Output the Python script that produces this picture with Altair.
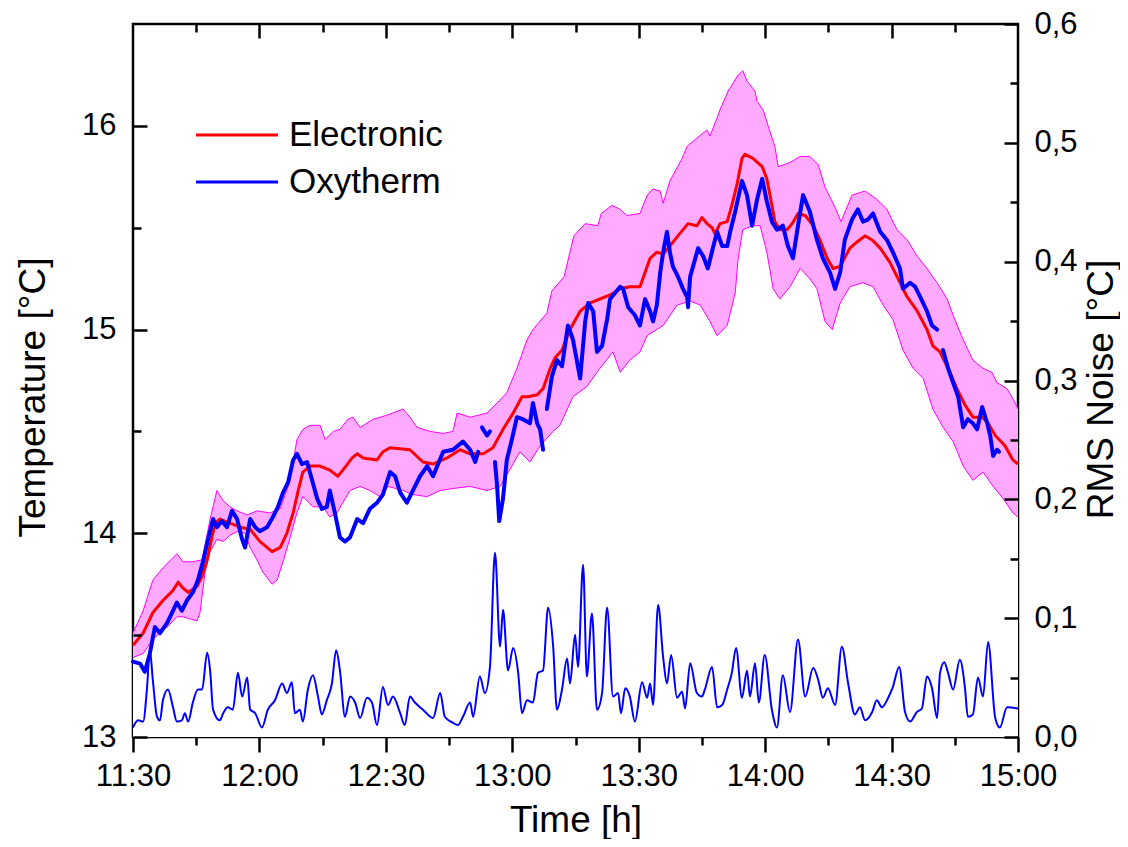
import altair as alt
import pandas as pd

FONT = "Liberation Sans"

# time in minutes after 11:30, temperature in °C
ELEC = [(0.0,13.45),(2.4,13.51),(4.7,13.61),(7.1,13.67),(9.5,13.72),(10.7,13.76),(11.9,13.73),(13.1,13.71),
        (15.2,13.74),(16.4,13.79),(17.6,13.87),(18.7,13.98),(19.5,14.05),(20.6,14.07),(23.0,14.05),(25.4,14.03),
        (27.8,14.02),(30.1,13.96),(33.0,13.91),(34.9,13.93),(36.5,14.00),(38.0,14.10),(39.2,14.21),(40.3,14.30),
        (42.0,14.33),(44.4,14.33),(46.7,14.31),(48.6,14.28),(49.8,14.31),(52.0,14.37),(53.2,14.39),(54.6,14.37),
        (57.9,14.36),(59.3,14.40),(61.0,14.42),(65.7,14.41),(68.8,14.35),(71.2,14.34),(74.5,14.37),(77.6,14.41),
        (80.0,14.39),(83.1,14.39),(85.4,14.42),(87.8,14.51),(90.2,14.59),(92.3,14.67),(93.7,14.67),(95.9,14.68),
        (97.3,14.71),(99.0,14.81),(100.1,14.86),(101.8,14.90),(103.7,15.00),(106.1,15.09),(108.4,15.13),(110.8,15.15),
        (113.2,15.17),(115.6,15.20),(117.9,15.21),(120.3,15.21),(121.5,15.28),(122.7,15.35),(124.3,15.38),(125.8,15.37),
        (127.4,15.41),(129.3,15.46),(131.7,15.52),(133.8,15.51),(135.0,15.55),(136.2,15.52),(137.4,15.50),(138.1,15.47),
        (139.3,15.52),(141.0,15.53),(142.1,15.61),(143.3,15.71),(144.5,15.84),(145.2,15.86),(147.1,15.84),(149.3,15.80),
        (150.4,15.74),(151.6,15.61),(152.3,15.53),(153.5,15.49),(155.2,15.49),(156.4,15.52),(157.8,15.57),(159.5,15.56),
        (161.4,15.51),(163.0,15.44),(164.7,15.35),(166.1,15.30),(167.8,15.31),(170.1,15.40),(171.8,15.43),(173.7,15.46),
        (175.4,15.44),(177.3,15.40),(179.6,15.33),(181.3,15.26),(183.7,15.16),(186.1,15.09),(188.4,15.00),(189.8,14.92),
        (191.5,14.89),(193.4,14.81),(195.5,14.71),(197.4,14.63),(199.3,14.57),(201.5,14.57),(202.9,14.54),(204.6,14.48),
        (206.9,14.43),(208.8,14.36),(210.0,14.34)]

OXY_1 = [(0.0,13.37),(1.7,13.36),(2.8,13.32),(4.0,13.41),(5.2,13.54),(6.4,13.51),(8.1,13.56),(9.5,13.62),(10.4,13.66),
         (11.6,13.62),(12.8,13.67),(14.2,13.71),(15.4,13.77),(16.6,13.86),(17.8,13.97),(19.0,14.07),(19.9,14.03),
         (21.1,14.06),(22.3,14.03),(23.5,14.11),(24.7,14.07),(25.9,13.97),(26.6,13.93),(27.8,14.07),(29.0,14.03),
         (30.1,14.01),(31.8,14.03),(33.2,14.08),(34.4,14.13),(35.6,14.20),(36.8,14.25),(38.0,14.36),(38.9,14.39),
         (40.1,14.34),(41.3,14.35),(42.5,14.26),(43.7,14.17),(44.8,14.12),(46.0,14.13),(46.7,14.21),(47.9,14.10),
         (49.1,13.98),(50.3,13.96),(51.5,13.98),(53.2,14.07),(54.6,14.05),(56.2,14.12),(57.9,14.15),(59.3,14.19),
         (61.0,14.30),(62.2,14.28),(63.4,14.20),(65.0,14.15),(66.4,14.21),(68.1,14.28),(69.8,14.33),(71.2,14.28),
         (73.6,14.40),(75.9,14.41),(78.3,14.45),(80.0,14.41),(81.2,14.35),(81.9,14.40)]
OXY_2 = [(82.8,14.52),(84.0,14.48),(84.7,14.50)]
OXY_3 = [(85.9,14.35),(86.4,14.23),(86.9,14.06),(87.8,14.17),(88.7,14.36),(89.9,14.46),(91.1,14.57),(92.5,14.56),
         (94.2,14.54),(94.9,14.64),(95.9,14.54),(96.6,14.51),(97.3,14.41)]
OXY_4 = [(98.2,14.61),(99.4,14.77),(100.6,14.85),(101.8,14.82),(103.2,15.02),(104.4,14.95),(106.1,14.76),(107.3,15.04),
         (108.0,15.13),(109.2,15.09),(110.1,14.89),(111.3,14.92),(112.5,15.05),(113.2,15.15),(115.6,15.21),(116.3,15.20),
         (117.5,15.11),(119.1,15.07),(120.3,15.02),(121.5,15.15),(122.7,15.09),(123.4,15.04),(124.3,15.12),(125.1,15.28),
         (125.8,15.38),(126.7,15.48),(127.4,15.38),(128.1,15.31),(129.3,15.26),(130.5,15.20),(131.5,15.16),(131.7,15.11),
         (132.2,15.26),(132.9,15.31),(134.1,15.40),(135.3,15.36),(136.4,15.30),(137.6,15.40),(138.6,15.48),(139.8,15.41),
         (141.0,15.41),(141.7,15.48),(142.9,15.58),(144.5,15.73),(145.7,15.66),(146.9,15.51),(148.1,15.64),(149.3,15.74),
         (150.4,15.63),(151.6,15.53),(152.8,15.49),(154.2,15.51),(155.4,15.41),(156.6,15.35),(157.8,15.51),(159.0,15.66),
         (160.6,15.58),(162.3,15.44),(163.7,15.35),(165.4,15.28),(166.6,15.20),(167.8,15.28),(168.9,15.44),(170.6,15.54),
         (172.0,15.59),(173.2,15.53),(174.4,15.54),(175.6,15.57),(177.3,15.48),(178.9,15.44),(180.3,15.38),(182.0,15.30),
         (182.7,15.20),(184.4,15.23),(185.6,15.21),(186.8,15.16),(188.4,15.09),(189.6,15.02),(190.8,15.00)]
OXY_5 = [(192.2,14.90),(193.4,14.81),(194.6,14.74),(195.8,14.67),(197.0,14.52),(198.1,14.56),(199.3,14.54),(200.3,14.51),
         (201.5,14.62),(202.7,14.54),(203.4,14.48),(204.1,14.38),(205.0,14.41),(205.5,14.40)]

BAND_HI = [(0.0,13.51),(2.4,13.62),(4.7,13.77),(7.1,13.83),(10.4,13.90),(11.9,13.86),(14.2,13.86),(16.4,13.87),
           (18.3,14.07),(19.9,14.21),(21.4,14.16),(23.0,14.13),(24.7,14.11),(27.1,14.09),(29.4,14.11),(32.5,14.10),
           (34.9,14.12),(37.3,14.26),(38.9,14.46),(40.3,14.51),(42.0,14.53),(44.4,14.53),(45.6,14.46),(47.5,14.50),
           (49.1,14.51),(51.0,14.56),(52.2,14.57),(53.9,14.52),(57.0,14.56),(60.3,14.58),(64.1,14.61),(65.7,14.57),
           (67.4,14.52),(70.5,14.50),(73.6,14.49),(75.9,14.50),(76.9,14.59),(80.0,14.57),(84.0,14.59),(86.4,14.64),
           (88.7,14.69),(91.1,14.81),(93.5,14.95),(94.9,15.00),(98.2,15.08),(99.4,15.19),(102.3,15.26),(104.6,15.46),
           (107.3,15.52),(110.3,15.51),(111.1,15.57),(113.7,15.61),(115.6,15.59),(117.2,15.56),(120.3,15.57),(122.0,15.66),
           (123.4,15.69),(125.1,15.68),(125.8,15.62),(127.4,15.73),(130.3,15.84),(131.5,15.90),(133.8,15.94),(136.2,15.98),
           (136.9,15.95),(138.6,16.04),(139.3,16.08),(141.2,16.17),(143.6,16.25),(144.7,16.27),(145.7,16.22),(147.6,16.17),
           (148.1,16.12),(149.5,16.08),(150.7,16.00),(152.3,15.90),(153.1,15.80),(155.9,15.82),(158.3,15.85),(160.6,15.85),
           (162.6,15.81),(164.2,15.70),(166.6,15.60),(168.0,15.53),(170.6,15.66),(173.7,15.68),(176.5,15.64),(178.9,15.59),
           (181.3,15.49),(183.7,15.44),(186.1,15.36),(188.4,15.30),(190.8,15.23),(193.2,15.15),(194.6,15.07),(197.0,14.95),
           (199.3,14.85),(201.7,14.81),(203.8,14.79),(205.0,14.74),(207.4,14.71),(208.8,14.66),(210.0,14.61)]

BAND_LO = [(0.0,13.39),(2.4,13.41),(4.7,13.48),(8.1,13.54),(10.4,13.59),(11.9,13.59),(13.5,13.58),(15.2,13.57),
           (15.9,13.61),(17.1,13.81),(18.3,13.91),(19.9,13.97),(21.4,13.96),(23.0,13.99),(24.9,14.01),(26.6,14.00),
           (27.8,13.93),(29.4,13.87),(30.8,13.81),(33.0,13.75),(34.2,13.77),(35.6,13.86),(37.3,13.98),(38.9,14.10),
           (40.3,14.18),(42.7,14.13),(45.1,14.13),(46.7,14.08),(48.4,14.10),(49.8,14.15),(51.5,14.21),(53.9,14.23),
           (56.2,14.21),(58.6,14.18),(60.5,14.23),(64.1,14.21),(66.4,14.19),(69.8,14.18),(72.9,14.21),(75.9,14.22),
           (80.0,14.23),(84.0,14.21),(87.1,14.23),(89.9,14.33),(91.8,14.40),(94.2,14.35),(96.6,14.43),(99.7,14.50),
           (101.3,14.53),(104.4,14.67),(107.7,14.72),(110.8,14.81),(113.9,14.89),(115.6,14.79),(117.9,14.85),(120.3,14.89),
           (122.0,14.97),(125.8,15.02),(129.1,15.12),(132.2,15.14),(134.6,15.12),(136.9,15.04),(138.6,14.97),(141.0,15.02),
           (142.9,15.18),(143.6,15.35),(144.7,15.49),(147.1,15.51),(148.8,15.51),(150.4,15.38),(151.9,15.20),(153.5,15.15),
           (155.9,15.21),(158.3,15.30),(160.6,15.25),(162.3,15.20),(164.2,15.04),(165.9,15.00),(167.8,15.13),(170.1,15.21),
           (173.2,15.23),(175.6,15.21),(178.0,15.12),(180.3,15.05),(182.7,14.90),(185.1,14.81),(187.5,14.76),(189.8,14.61),
           (192.2,14.52),(194.6,14.45),(197.0,14.33),(199.3,14.26),(201.7,14.30),(204.1,14.23),(206.5,14.17),(208.8,14.10),
           (210.0,14.08)]

# RMS noise in °C
NOISE = [(0.0,0.008),(1.2,0.014),(2.4,0.013),(3.3,0.040),(4.0,0.073),(4.7,0.048),(5.7,0.017),(6.4,0.014),(7.1,0.031),
         (8.3,0.040),(9.5,0.025),(10.4,0.013),(11.6,0.014),(12.3,0.020),(13.1,0.013),(14.2,0.029),(15.4,0.040),
         (16.4,0.040),(17.6,0.071),(18.3,0.056),(19.0,0.023),(20.6,0.014),(21.4,0.020),(22.5,0.025),(23.7,0.023),
         (24.9,0.054),(25.9,0.034),(27.1,0.050),(27.8,0.023),(29.0,0.020),(30.6,0.008),(32.0,0.023),(33.7,0.031),
         (35.4,0.045),(36.5,0.037),(37.7,0.046),(38.4,0.020),(39.6,0.023),(40.3,0.013),(41.5,0.040),(42.7,0.052),
         (43.9,0.034),(44.8,0.019),(46.0,0.031),(47.2,0.045),(48.2,0.073),(49.1,0.056),(50.3,0.017),(51.5,0.034),
         (52.7,0.029),(53.9,0.016),(55.5,0.033),(56.7,0.029),(57.9,0.010),(59.3,0.042),(60.5,0.027),(61.7,0.034),
         (63.4,0.020),(64.5,0.010),(65.7,0.034),(66.9,0.029),(68.8,0.023),(71.2,0.016),(72.9,0.037),(74.0,0.017),
         (75.9,0.012),(77.1,0.010),(78.3,0.017),(80.0,0.029),(80.7,0.017),(82.3,0.051),(83.5,0.037),(84.7,0.059),
         (85.9,0.155),(87.1,0.076),(87.8,0.107),(89.0,0.056),(90.2,0.075),(91.4,0.054),(92.3,0.020),(93.5,0.031),
         (94.9,0.029),(96.1,0.054),(97.3,0.056),(98.5,0.109),(99.7,0.076),(100.6,0.023),(101.8,0.040),(103.0,0.066),
         (103.7,0.045),(104.9,0.086),(105.6,0.059),(106.8,0.145),(107.7,0.051),(108.9,0.104),(110.1,0.023),(111.3,0.037),
         (112.5,0.109),(113.9,0.034),(115.1,0.037),(115.8,0.020),(116.8,0.041),(117.9,0.034),(119.1,0.013),(120.8,0.046),
         (122.0,0.033),(122.7,0.045),(123.4,0.027),(124.6,0.111),(125.8,0.067),(126.7,0.045),(127.7,0.069),(129.1,0.033),
         (130.3,0.038),(131.0,0.024),(132.2,0.062),(133.8,0.037),(135.0,0.034),(135.7,0.040),(137.4,0.059),(138.6,0.025),
         (139.8,0.027),(141.0,0.040),(142.1,0.054),(143.1,0.075),(144.5,0.033),(145.7,0.056),(146.4,0.034),(147.6,0.062),
         (148.5,0.029),(149.9,0.069),(151.6,0.023),(152.8,0.008),(154.2,0.052),(155.9,0.021),(157.8,0.082),(159.5,0.034),
         (161.4,0.058),(162.6,0.048),(163.7,0.033),(164.9,0.041),(166.6,0.027),(168.2,0.076),(169.7,0.045),(171.3,0.019),
         (172.5,0.025),(173.7,0.014),(175.4,0.021),(176.5,0.031),(177.7,0.025),(179.2,0.033),(180.3,0.042),(181.8,0.059),
         (183.2,0.021),(184.4,0.013),(186.0,0.021),(187.2,0.024),(188.4,0.051),(189.6,0.041),(190.8,0.016),(191.5,0.054),
         (192.5,0.063),(193.4,0.054),(194.6,0.040),(196.2,0.065),(197.4,0.042),(198.1,0.017),(199.3,0.019),(200.5,0.050),
         (201.7,0.034),(202.9,0.080),(204.6,0.016),(205.7,0.008),(207.4,0.025),(210.0,0.024)]

SERIES = ["Electronic", "Oxytherm"]
COLORS = ["#FF0000", "#0000FF"]
TEMP_MAJOR = [13, 14, 15, 16]
TEMP_MINOR = [13.5, 14.5, 15.5]
NOISE_MAJOR = [0.0, 0.1, 0.2, 0.3, 0.4, 0.5, 0.6]
NOISE_MINOR = [0.05, 0.15, 0.25, 0.35, 0.45, 0.55]
TIME_MAJOR = [0, 30, 60, 90, 120, 150, 180, 210]
TIME_MINOR = [15, 45, 75, 105, 135, 165, 195]


def frame(pairs, **extra):
    return pd.DataFrame(pairs, columns=["t", "v"]).assign(**extra)


elec_df = frame(ELEC, series=SERIES[0])
oxy_df = pd.concat([frame(s, seg=i, series=SERIES[1])
                    for i, s in enumerate([OXY_1, OXY_2, OXY_3, OXY_4, OXY_5])])
hi_df = frame(BAND_HI)
lo_df = frame(BAND_LO)
noise_df = frame(NOISE)

TICK_FS = 31
TITLE_FS = 37

common = dict(domain=False, grid=False, tickColor="black", tickWidth=2.5, zindex=1,
              labelFont=FONT, titleFont=FONT, labelColor="black", titleColor="black",
              titleFontWeight="normal")

ax_bottom = alt.Axis(orient="bottom", values=TIME_MAJOR, tickSize=15, labelFontSize=TICK_FS,
                     labelPadding=33, labelBaseline="alphabetic", labelFlush=False, labelOverlap=False,
                     labelExpr="timeFormat(datetime(2000,0,1,11,30+datum.value),'%H:%M')",
                     title="Time [h]", titleFontSize=TITLE_FS, titleBaseline="alphabetic",
                     titleX=442.5, titleY=94, **common)
ax_bottom_minor = alt.Axis(orient="bottom", values=TIME_MINOR, tickSize=8, labels=False, title=None, **common)
ax_top = alt.Axis(orient="top", values=TIME_MAJOR[1:-1], tickSize=14, offset=-14, labels=False, title=None, **common)
ax_top_minor = alt.Axis(orient="top", values=TIME_MINOR, tickSize=8, offset=-8, labels=False, title=None, **common)

ax_left = alt.Axis(orient="left", values=TEMP_MAJOR, tickSize=14, offset=-14, labelPadding=17,
                   labelFontSize=TICK_FS, format="d", title="Temperature [°C]", titleFontSize=TITLE_FS,
                   titleAngle=270, titleBaseline="middle", titleAlign="center",
                   titleX=-114, titleY=373, **common)
ax_left_minor = alt.Axis(orient="left", values=TEMP_MINOR, tickSize=8, offset=-8, labels=False, title=None, **common)
ax_right = alt.Axis(orient="right", values=NOISE_MAJOR, tickSize=14, offset=-14, labelPadding=16,
                    labelFontSize=TICK_FS, labelExpr="replace(format(datum.value,'.1f'),'.',',')",
                    title="RMS Noise [°C]", titleFontSize=TITLE_FS, titleAngle=270, titleBaseline="middle",
                    titleAlign="center", titleX=97, titleY=365, **common)
ax_right_minor = alt.Axis(orient="right", values=NOISE_MINOR, tickSize=8, offset=-8, labels=False, title=None, **common)

xs = alt.Scale(domain=[0, 210], nice=False, zero=False)
ts = alt.Scale(domain=[13, 16.5], nice=False, zero=False)
ns = alt.Scale(domain=[0, 0.6], nice=False, zero=False)


def X(axis):
    return alt.X("t:Q", scale=xs, axis=axis)


def YT(axis):
    return alt.Y("v:Q", scale=ts, axis=axis)


def YN(axis):
    return alt.Y("v:Q", scale=ns, axis=axis)


legend = alt.Legend(orient="none", legendX=86.5, legendY=93.5, title=None, padding=0,
                    symbolType="M-4,0H4", symbolSize=420, symbolStrokeWidth=3,
                    labelFontSize=35, labelFont=FONT, labelColor="black", labelOffset=34.5,
                    rowPadding=11)
cscale = alt.Scale(domain=SERIES, range=COLORS)
color = alt.Color("series:N", scale=cscale, legend=legend)

area_hi = alt.Chart(hi_df).mark_area(color="#FFAAFF", opacity=1).encode(
    x=X(ax_bottom), y=YT(ax_left), y2=alt.datum(13))
area_lo = alt.Chart(lo_df).mark_area(color="white", opacity=1).encode(
    x=X(ax_bottom_minor), y=YT(ax_left_minor), y2=alt.datum(13))
line_hi = alt.Chart(hi_df).mark_line(color="#FF00FF", strokeWidth=1).encode(
    x=X(ax_top), y=YT(None))
line_lo = alt.Chart(lo_df).mark_line(color="#FF00FF", strokeWidth=1).encode(
    x=X(ax_top_minor), y=YT(None))
red = alt.Chart(elec_df).mark_line(strokeWidth=3, strokeJoin="round").encode(
    x=X(None), y=YT(None), color=color)
blue = alt.Chart(oxy_df).mark_line(strokeWidth=4, strokeJoin="round", strokeCap="round").encode(
    x=X(None), y=YT(None), detail="seg:N", color=color)
noise = alt.Chart(noise_df).mark_line(color="#0000FF", strokeWidth=2, interpolate="monotone").encode(
    x=X(None), y=YN(ax_right))
noise_minor = alt.Chart(noise_df).mark_line(opacity=0).encode(
    x=X(None), y=YN(ax_right_minor))

chart = alt.layer(area_hi, area_lo, line_hi, line_lo, red, blue, noise, noise_minor).resolve_scale(
    y="independent").resolve_axis(x="independent", y="independent").properties(
    width=885, height=713, autosize=alt.AutoSizeParams(type="none"),
    padding={"left": 125, "top": 16, "right": 102, "bottom": 102},
    background="white").configure_view(stroke="black", strokeWidth=2.5)

chart.save("out.html", embed_options={"renderer": "svg", "actions": False})
